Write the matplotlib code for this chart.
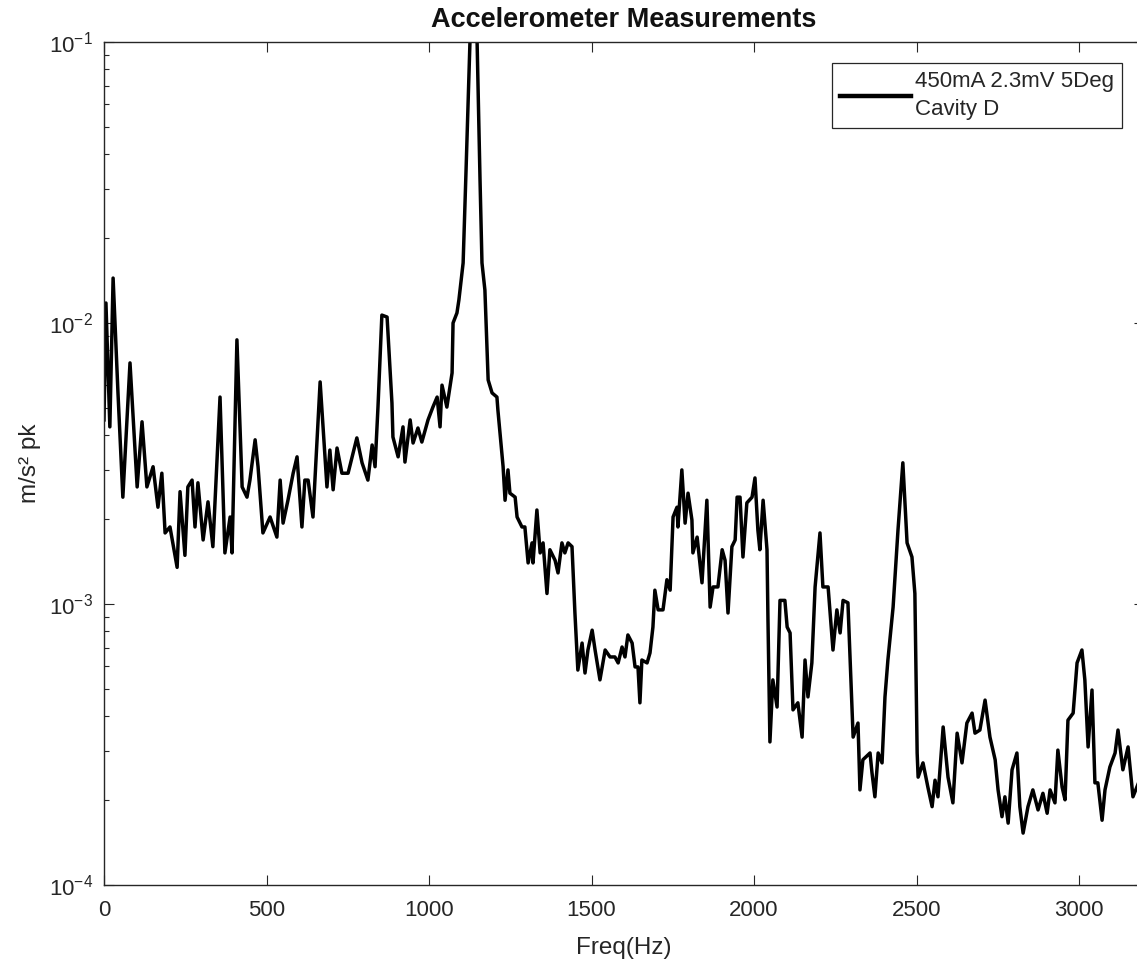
import matplotlib
matplotlib.use("Agg")
import matplotlib.pyplot as plt
from matplotlib.ticker import LogLocator, NullFormatter, MultipleLocator

plt.rcParams["font.family"] = ["Liberation Sans", "DejaVu Sans"]
plt.rcParams["mathtext.fontset"] = "custom"
plt.rcParams["mathtext.rm"] = "Liberation Sans"
plt.rcParams["mathtext.it"] = "Liberation Sans:italic"
plt.rcParams["mathtext.bf"] = "Liberation Sans:bold"

# Spectrum of the cavity accelerometer (frequency in Hz, amplitude in m/s^2 pk)
freq_hz = [
    0, 6, 18, 28, 43, 58, 80, 102, 117, 132, 151, 166, 178, 188, 203, 225,
    234, 249, 258, 271, 280, 289, 305, 320, 335, 357, 372, 388, 394, 409,
    425, 440, 449, 465, 474, 489, 511, 532, 542, 551, 566, 582, 594, 609,
    618, 628, 643, 665, 686, 695, 705, 717, 732, 751, 778, 794, 812, 825,
    834, 843, 855, 871, 886, 889, 905, 920, 926, 942, 951, 966, 978, 997,
    1012, 1025, 1034, 1040, 1055, 1071, 1074, 1086, 1092, 1105, 1114, 1126,
    1137, 1148, 1157, 1163, 1172, 1182, 1194, 1209, 1212, 1228, 1234, 1243,
    1249, 1265, 1271, 1286, 1295, 1305, 1317, 1320, 1332, 1342, 1351, 1363,
    1372, 1388, 1397, 1409, 1418, 1428, 1440, 1449, 1458, 1471, 1480, 1489,
    1502, 1511, 1526, 1542, 1557, 1572, 1582, 1594, 1603, 1612, 1625, 1634,
    1643, 1649, 1655, 1671, 1680, 1689, 1695, 1705, 1720, 1732, 1742, 1751,
    1763, 1766, 1778, 1788, 1797, 1809, 1812, 1825, 1840, 1855, 1865, 1874,
    1889, 1902, 1911, 1920, 1932, 1942, 1948, 1957, 1966, 1978, 1994, 2003,
    2012, 2018, 2028, 2040, 2043, 2049, 2058, 2071, 2080, 2095, 2102, 2111,
    2120, 2135, 2148, 2157, 2166, 2178, 2188, 2203, 2212, 2228, 2243, 2255,
    2265, 2274, 2289, 2305, 2320, 2326, 2335, 2357, 2363, 2372, 2382, 2394,
    2403, 2412, 2428, 2443, 2458, 2471, 2486, 2495, 2502, 2505, 2520, 2535,
    2548, 2557, 2566, 2582, 2597, 2612, 2625, 2640, 2655, 2671, 2680, 2695,
    2711, 2726, 2742, 2751, 2763, 2772, 2782, 2794, 2809, 2818, 2828, 2843,
    2858, 2874, 2889, 2902, 2911, 2926, 2935, 2948, 2957, 2966, 2982, 2994,
    3009, 3018, 3028, 3040, 3049, 3058, 3071, 3080, 3095, 3111, 3120, 3135,
    3151, 3166, 3178, 3195,
]

accel_pk = [
    0.00452, 0.01178, 0.00427, 0.01445, 0.00564, 0.00240, 0.00721, 0.00261,
    0.00445, 0.00261, 0.00308, 0.00221, 0.00292, 0.00179, 0.00188, 0.00135,
    0.00251, 0.00149, 0.00261, 0.00276, 0.00188, 0.00270, 0.00169, 0.00231,
    0.00160, 0.00545, 0.00152, 0.00204, 0.00152, 0.00871, 0.00261, 0.00240,
    0.00276, 0.00384, 0.00308, 0.00179, 0.00204, 0.00173, 0.00276, 0.00194,
    0.00234, 0.00292, 0.00334, 0.00188, 0.00276, 0.00276, 0.00204, 0.00617,
    0.00261, 0.00353, 0.00255, 0.00359, 0.00292, 0.00292, 0.00390, 0.00318,
    0.00276, 0.00368, 0.00308, 0.00502, 0.01067, 0.01050, 0.00519, 0.00393,
    0.00334, 0.00427, 0.00320, 0.00452, 0.00374, 0.00423, 0.00377, 0.00452,
    0.00502, 0.00545, 0.00427, 0.00601, 0.00502, 0.00664, 0.01000, 0.01086,
    0.01208, 0.01636, 0.03500, 0.10000, 0.11500, 0.10000, 0.03230, 0.01636,
    0.01310, 0.00627, 0.00564, 0.00545, 0.00490, 0.00308, 0.00234, 0.00300,
    0.00248, 0.00240, 0.00204, 0.00188, 0.00188, 0.00140, 0.00165, 0.00140,
    0.00216, 0.00152, 0.00165, 0.00109, 0.00156, 0.00143, 0.00129, 0.00165,
    0.00152, 0.00165, 0.00160, 0.000929, 0.000582, 0.000726, 0.000568,
    0.000686, 0.000807, 0.000686, 0.000537, 0.000686, 0.000648, 0.000648,
    0.000617, 0.000703, 0.000648, 0.000776, 0.000726, 0.000597, 0.000597,
    0.000445, 0.000632, 0.000617, 0.000670, 0.000828, 0.00112, 0.000953,
    0.000953, 0.00122, 0.00112, 0.00204, 0.00221, 0.00188, 0.00300, 0.00194,
    0.00248, 0.00199, 0.00152, 0.00173, 0.00119, 0.00234, 0.000975, 0.00115,
    0.00115, 0.00156, 0.00143, 0.000929, 0.00160, 0.00169, 0.00240, 0.00240,
    0.00147, 0.00229, 0.00240, 0.00281, 0.00183, 0.00156, 0.00234, 0.00156,
    0.000877, 0.000323, 0.000537, 0.000430, 0.00103, 0.00103, 0.000828,
    0.000789, 0.000420, 0.000445, 0.000336, 0.000632, 0.000467, 0.000617,
    0.00115, 0.00179, 0.00115, 0.00115, 0.000686, 0.000953, 0.000789,
    0.00103, 0.00101, 0.000336, 0.000377, 0.000218, 0.000279, 0.000295,
    0.000251, 0.000206, 0.000295, 0.000272, 0.000467, 0.000632, 0.000975,
    0.00183, 0.00318, 0.00165, 0.00147, 0.00109, 0.000295, 0.000242,
    0.000272, 0.000223, 0.000190, 0.000236, 0.000206, 0.000365, 0.000242,
    0.000196, 0.000347, 0.000272, 0.000377, 0.000409, 0.000347, 0.000356,
    0.000455, 0.000336, 0.000279, 0.000218, 0.000175, 0.000206, 0.000166,
    0.000257, 0.000295, 0.000190, 0.000153, 0.000190, 0.000218, 0.000185,
    0.000212, 0.000180, 0.000218, 0.000196, 0.000302, 0.000223, 0.000201,
    0.000386, 0.000409, 0.000617, 0.000686, 0.000537, 0.000310, 0.000494,
    0.000231, 0.000231, 0.000170, 0.000218, 0.000263, 0.000295, 0.000356,
    0.000257, 0.000310, 0.000206, 0.000223, 0.000250,
]

series_label = "450mA 2.3mV 5Deg\nCavity D"
title_text = "Accelerometer Measurements"
x_label = "Freq(Hz)"
y_label = "m/s\u00b2 pk"

W, H = 1137, 966
fig = plt.figure(figsize=(W / 100, H / 100), dpi=100)
ax_left, ax_right, ax_top, ax_bottom = 104, 1144, 42, 885
ax = fig.add_axes([ax_left / W, 1 - ax_bottom / H,
                   (ax_right - ax_left) / W, (ax_bottom - ax_top) / H])

ink = "#262626"
ax.plot(freq_hz, accel_pk, color="black", lw=2.5, label=series_label)

ax.set_yscale("log")
ax.set_ylim(1e-4, 1e-1)
ax.set_xlim(0, 3200)
ax.xaxis.set_major_locator(MultipleLocator(500))
ax.yaxis.set_major_locator(LogLocator(base=10, numticks=10))
ax.yaxis.set_minor_locator(LogLocator(base=10, subs=range(2, 10), numticks=20))
ax.yaxis.set_minor_formatter(NullFormatter())

for s in ax.spines.values():
    s.set_color(ink)
    s.set_linewidth(1.0)

ax.tick_params(axis="both", which="both", direction="in", top=True,
               right=True, colors=ink, labelsize=16, width=0.8)
ax.tick_params(axis="both", which="major", length=7)
ax.tick_params(axis="both", which="minor", length=3.6)
ax.tick_params(axis="x", which="major", pad=11)
ax.tick_params(axis="y", which="major", pad=8)

ax.set_title(title_text, fontsize=19.5, fontweight="bold", color="#111111", pad=11)
ax.set_xlabel(x_label, fontsize=17.5, color=ink)
ax.set_ylabel(y_label, fontsize=17.5, color=ink)
ax.xaxis.set_label_coords(0.5, -0.062)
ax.yaxis.set_label_coords(-0.061, 0.5)

leg = ax.legend(loc="upper right", bbox_to_anchor=(1122 / W, 1 - 63 / H),
                bbox_transform=fig.transFigure, borderaxespad=0.0, fontsize=16,
                handlelength=3.2, handletextpad=0.2, borderpad=0.35,
                fancybox=False, framealpha=1.0, edgecolor=ink)
leg.get_frame().set_linewidth(0.9)
for t in leg.get_texts():
    t.set_color(ink)
    t.set_linespacing(1.45)
for h in leg.get_lines():
    h.set_linewidth(3.2)

fig.savefig("out.png", dpi=100)
